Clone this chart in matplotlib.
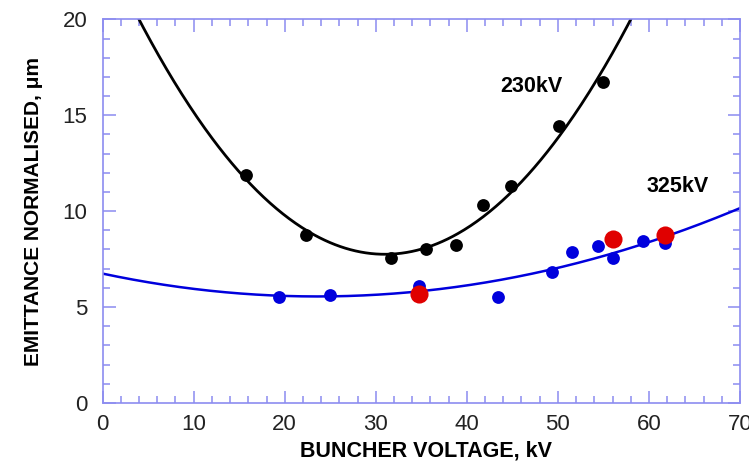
import numpy as np
import matplotlib
matplotlib.use("Agg")
import matplotlib.pyplot as plt
from matplotlib.ticker import MultipleLocator

plt.rcParams['font.family'] = ['Liberation Sans', 'DejaVu Sans']

# 230 kV data (black)
x_230 = [15.8, 22.3, 31.7, 35.5, 38.8, 41.8, 44.8, 50.1, 54.9]
y_230 = [11.9, 8.77, 7.57, 8.04, 8.25, 10.34, 11.33, 14.46, 16.76]
# 325 kV data (blue)
x_325 = [19.4, 25.0, 34.7, 43.4, 49.3, 51.6, 54.4, 56.0, 59.3, 61.8]
y_325 = [5.54, 5.64, 6.10, 5.54, 6.84, 7.88, 8.20, 7.57, 8.46, 8.35]
# red points
x_red = [34.7, 56.0, 61.8]
y_red = [5.69, 8.56, 8.77]
# fitted quadratics: a*(x-h)^2 + k
fit_230 = (0.0168, 31.0, 7.75)
fit_325 = (0.00214, 23.6, 5.55)

fig = plt.figure(figsize=(7.49, 4.62), dpi=100)
ax = fig.add_axes([0.137, 0.128, 0.851, 0.830])

xx = np.linspace(0, 70, 500)
a, h, k = fit_230
ax.plot(xx, a * (xx - h) ** 2 + k, color='black', lw=2.0, zorder=2)
a, h, k = fit_325
ax.plot(xx, a * (xx - h) ** 2 + k, color='#0000dd', lw=1.8, zorder=2)

ax.scatter(x_230, y_230, s=85, color='black', zorder=3, linewidths=0)
ax.scatter(x_325, y_325, s=85, color='#0000dd', zorder=3, linewidths=0)
ax.scatter(x_red, y_red, s=170, color='#e00000', zorder=4, linewidths=0)

ax.text(47.1, 16.5, '230kV', fontsize=15.5, fontweight='bold', ha='center', va='center')
ax.text(63.1, 11.28, '325kV', fontsize=15.5, fontweight='bold', ha='center', va='center')

ax.set_xlim(0, 70)
ax.set_ylim(0, 20)
ax.xaxis.set_major_locator(MultipleLocator(10))
ax.xaxis.set_minor_locator(MultipleLocator(2))
ax.yaxis.set_major_locator(MultipleLocator(5))
ax.yaxis.set_minor_locator(MultipleLocator(1))

spc = '#8c8cf0'
for s in ax.spines.values():
    s.set_color(spc)
    s.set_linewidth(1.2)
ax.tick_params(which='both', direction='in', top=True, right=True, color=spc, width=1.1,
               labelsize=16, labelcolor='#222222')
ax.tick_params(axis='x', which='both', pad=8)
ax.tick_params(axis='y', which='both', pad=11)
ax.tick_params(which='major', length=9)
ax.tick_params(which='minor', length=5)

ax.set_xlabel('BUNCHER VOLTAGE, kV', fontsize=15.5, fontweight='bold', labelpad=0)
ax.set_ylabel('EMITTANCE NORMALISED, \u03bcm', fontsize=15, fontweight='bold', labelpad=0)
ax.xaxis.set_label_coords(0.508, -0.098)
ax.yaxis.set_label_coords(-0.093, 0.5)

fig.savefig('out.png', dpi=100)
